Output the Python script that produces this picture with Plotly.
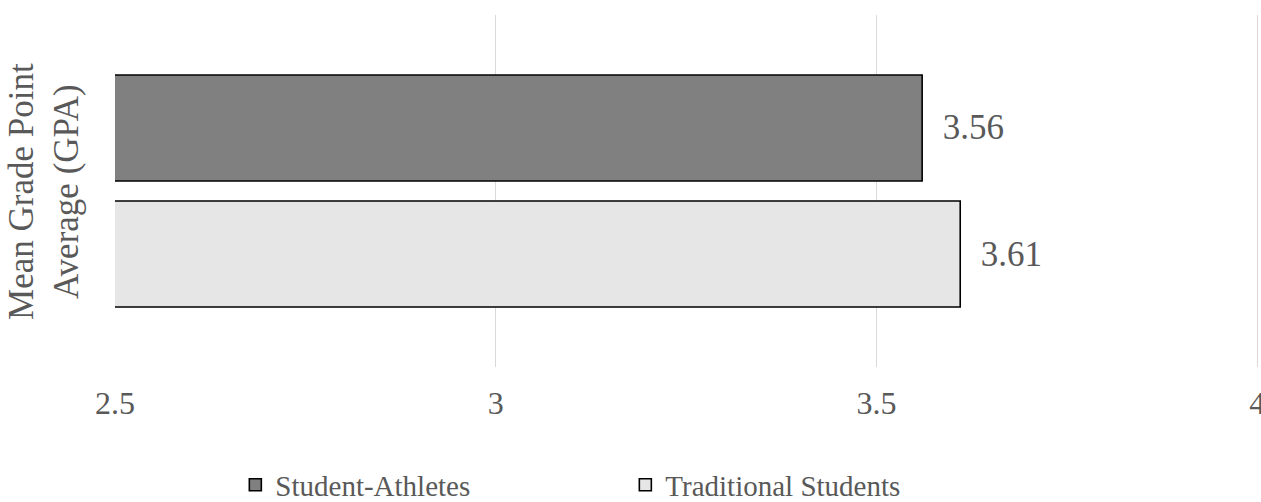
import plotly.graph_objects as go

# Mean GPA by student group
groups = ["Student-Athletes", "Traditional Students"]
gpa = [3.56, 3.61]
fills = ["#808080", "#e6e6e6"]
category = ["Mean GPA"]

x_ticks = [2.5, 3, 3.5, 4]
x_tick_labels = ["2.5", "3", "3.5", "4"]
y_title = "Mean Grade Point<br>Average (GPA)"

FONT = "Liberation Serif, Times New Roman, serif"
TEXT = "#595959"

fig = go.Figure()
for name, val, col in zip(groups, gpa, fills):
    fig.add_trace(go.Bar(
        name=name,
        y=category,
        x=[val],
        orientation="h",
        marker=dict(color=col, line=dict(color="#000000", width=1.6)),
        text=[f"{val:.2f}"],
        texttemplate="\u00a0\u00a0%{text}",
        textposition="outside",
        textfont=dict(family=FONT, size=35, color=TEXT),
        cliponaxis=False,
    ))

# rotated two-line axis title placed left of the plot area
fig.add_annotation(
    text=y_title,
    xref="paper", yref="paper",
    x=-0.062, y=0.5,
    xanchor="center", yanchor="middle",
    textangle=-90,
    showarrow=False,
    font=dict(family=FONT, size=35, color=TEXT),
)

fig.update_layout(
    width=1261,
    height=502,
    margin=dict(l=115, r=0, t=15, b=135, autoexpand=False),
    paper_bgcolor="white",
    plot_bgcolor="white",
    barmode="group",
    bargap=0.284,
    bargroupgap=0.159,
    font=dict(family=FONT, color=TEXT),
    showlegend=True,
    legend=dict(
        orientation="h",
        x=0.105,
        xanchor="left",
        yref="container",
        y=0.034,
        yanchor="middle",
        font=dict(family=FONT, size=29, color=TEXT),
        entrywidth=345,
        entrywidthmode="pixels",
        traceorder="normal",
    ),
    xaxis=dict(
        range=[2.5, 4.005],
        tickvals=x_ticks,
        ticktext=x_tick_labels,
        ticklabeloverflow="allow",
        showgrid=True,
        gridcolor="#d9d9d9",
        gridwidth=1.3,
        zeroline=False,
        showline=False,
        ticks="outside",
        ticklen=8,
        tickcolor="rgba(0,0,0,0)",
        tickfont=dict(family=FONT, size=32, color=TEXT),
    ),
    yaxis=dict(
        autorange="reversed",
        showticklabels=False,
        showgrid=False,
        zeroline=False,
        showline=False,
    ),
)

fig.write_html("out.html")
